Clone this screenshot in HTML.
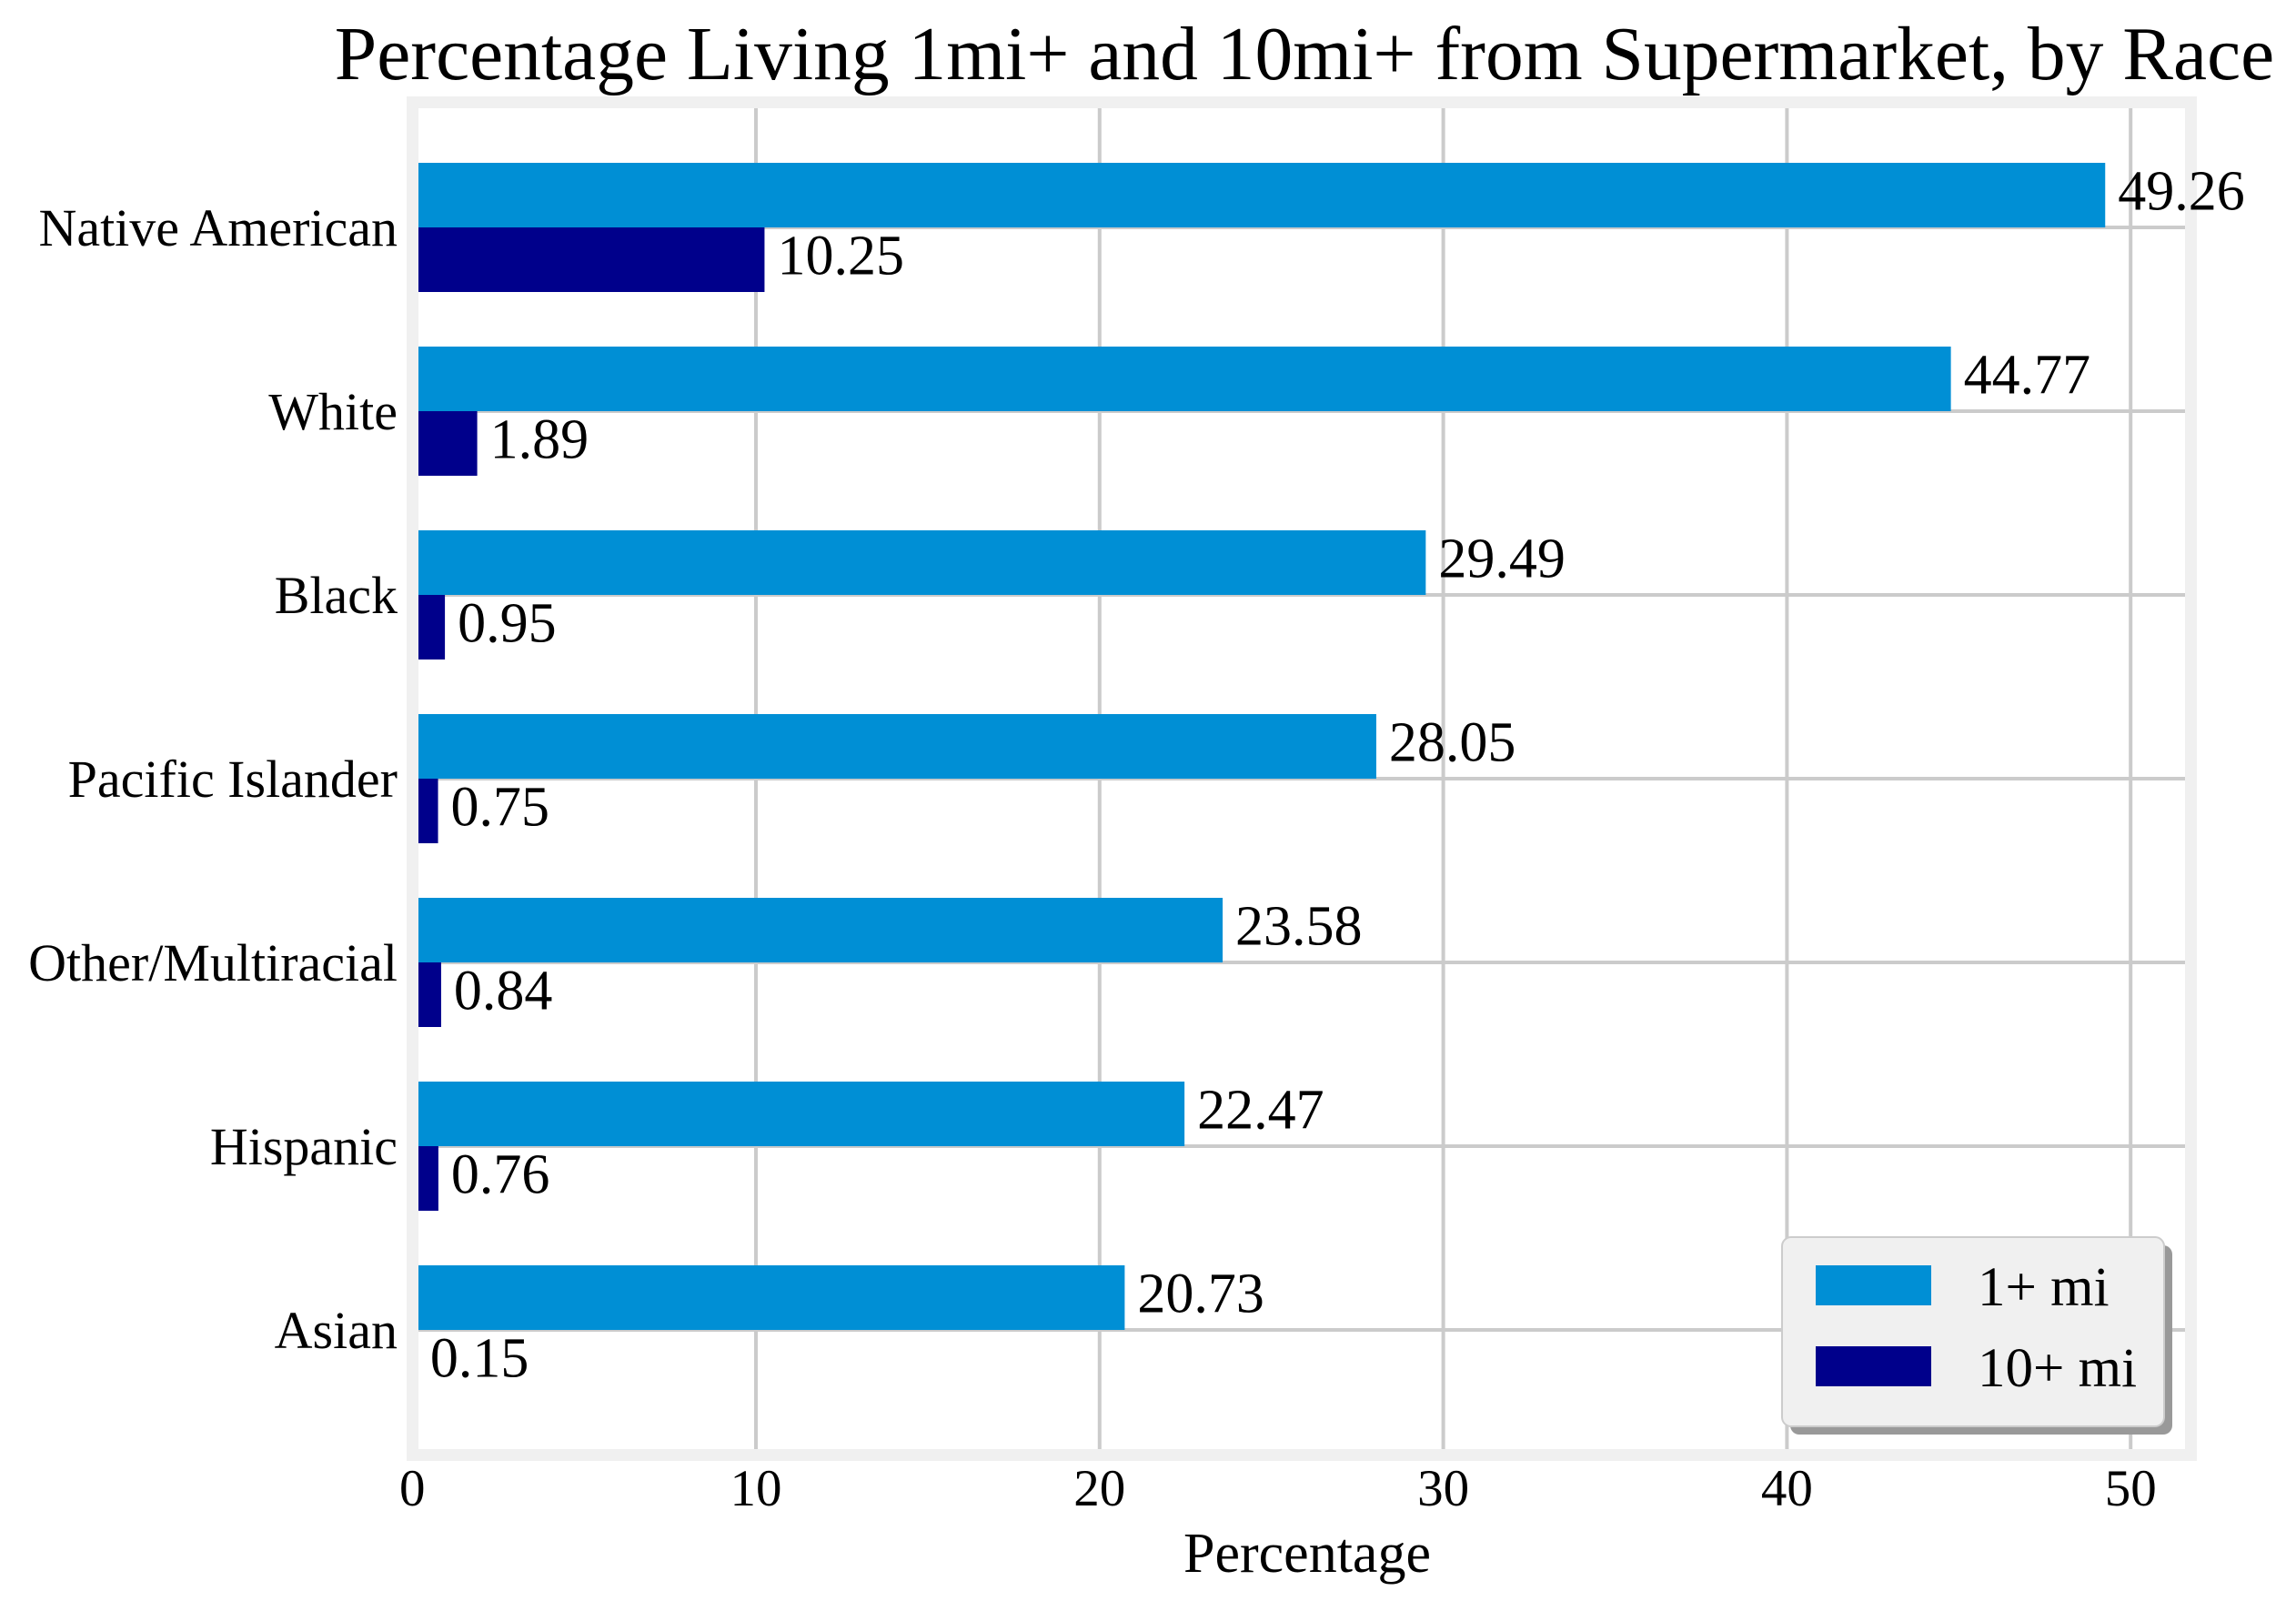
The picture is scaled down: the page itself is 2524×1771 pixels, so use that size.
<!DOCTYPE html>
<html><head><meta charset="utf-8">
<style>
html,body{margin:0;padding:0;background:#fff;}
svg{display:block;font-family:"Liberation Serif","Times New Roman",serif;}
</style></head>
<body>
<svg id="chart" width="2524" height="1771" viewBox="0 0 2524 1771" xmlns="http://www.w3.org/2000/svg">
  <text x="1434" y="87" font-size="83.5" text-anchor="middle">Percentage Living 1mi+ and 10mi+ from Supermarket, by Race</text>
  <g id="grid"></g>
  <g id="bars"></g>
  <rect x="453.5" y="112.5" width="1955" height="1487" fill="none" stroke="#f0f0f0" stroke-width="13"/>
  <g id="labels"></g>
  <g id="yaxis"></g>
  <g id="xaxis"></g>
  <text x="1437" y="1728" font-size="62" text-anchor="middle">Percentage</text>
  <g>
    <rect x="1968" y="1369" width="420" height="208" rx="10" fill="#999"/>
    <rect x="1959" y="1360" width="420" height="208" rx="10" fill="#f0f0f0" stroke="#ccc" stroke-width="2"/>
    <rect x="1996" y="1391" width="127" height="44" fill="#008fd5"/>
    <text x="2174" y="1435" font-size="61">1+ mi</text>
    <rect x="1996" y="1480" width="127" height="44" fill="#00008b"/>
    <text x="2174" y="1524" font-size="61">10+ mi</text>
  </g>
</svg>
<script>
const categories = ["Native American","White","Black","Pacific Islander","Other/Multiracial","Hispanic","Asian"];
const values1mi = [49.26,44.77,29.49,28.05,23.58,22.47,20.73];
const values10mi = [10.25,1.89,0.95,0.75,0.84,0.76,0.15];
const xTicks = [0,10,20,30,40,50];

const NS = "http://www.w3.org/2000/svg";
const X0 = 453.2, UNIT = 37.78;
const Y0 = 250, STEP = 202, BARH = 71;
const PL = 460, PR = 2402, PT = 119, PB = 1593;
function xs(v){ return X0 + v*UNIT; }
function ys(i){ return Y0 + i*STEP; }
function mk(tag, attrs, parent){
  const e = document.createElementNS(NS, tag);
  for (const k in attrs) e.setAttribute(k, attrs[k]);
  parent.appendChild(e);
  return e;
}
const grid = document.getElementById('grid');
const bars = document.getElementById('bars');
const labels = document.getElementById('labels');
const yaxis = document.getElementById('yaxis');
const xaxis = document.getElementById('xaxis');

xTicks.forEach(t => {
  if (t > 0) {
    const l = mk('line', {x1:xs(t), x2:xs(t), y1:PT, y2:PB, stroke:'#cbcbcb', 'stroke-width':4}, grid);
    
    
  }
  const tx = mk('text', {x:xs(t), y:1655, 'font-size':57, 'text-anchor':'middle'}, xaxis);
  tx.textContent = t;
  
  
});

categories.forEach((c, i) => {
  const y = ys(i);
  const g = mk('line', {x1:PL, x2:PR, y1:y, y2:y, stroke:'#cbcbcb', 'stroke-width':4}, grid);
  
  

  const b1 = mk('rect', {x:X0, y:y-BARH, width:xs(values1mi[i])-X0, height:BARH, fill:'#008fd5'}, bars);
  
  
  const b2 = mk('rect', {x:X0, y:y, width:xs(values10mi[i])-X0, height:BARH, fill:'#00008b'}, bars);
  
  

  const t1 = mk('text', {x:xs(values1mi[i])+14, y:y-BARH/2+16, 'font-size':62}, labels);
  t1.textContent = values1mi[i].toFixed(2);
  
  
  const t2 = mk('text', {x:xs(values10mi[i])+14, y:y+BARH/2+16, 'font-size':62}, labels);
  t2.textContent = values10mi[i].toFixed(2);
  
  

  const cl = mk('text', {x:437, y:y+20, 'font-size':58, 'text-anchor':'end'}, yaxis);
  cl.textContent = c;
  
  
});
</script>
</body></html>
